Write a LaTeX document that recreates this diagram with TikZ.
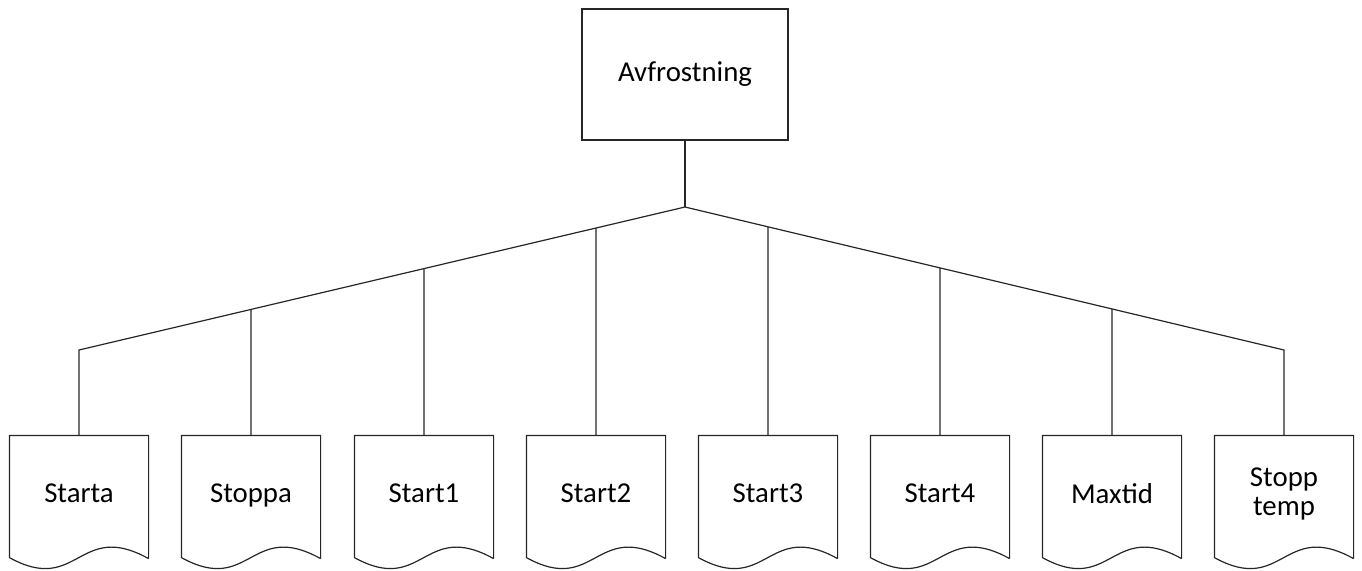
\documentclass[tikz,border=0pt]{standalone}
\usepackage{fontspec}
\setmainfont{Carlito}
\usetikzlibrary{calc}
\begin{document}
\begin{tikzpicture}[x=0.5pt,y=-0.5pt,
  line width=0.6pt,
  wire/.style={draw=black!85},
  topbox/.style={draw=black!85,minimum width=103pt,minimum height=65.5pt,inner sep=0pt,
    font=\fontsize{14.4}{15}\selectfont},
  docbox/.style={minimum width=69pt,minimum height=60.5pt,inner sep=0pt,
    text depth=3.5pt,font=\fontsize{14.4}{14.75}\selectfont,align=center},
  docline/.style={draw=black!85,line join=round}]
\useasboundingbox (0,0) rectangle (1362,570);

% root
\node[topbox] (root) at (685,74.5) {Avfrostning};

% leaves
\foreach \n/\x/\t in {d1/79/Starta,d2/251/Stoppa,d3/424/Start1,d4/596/Start2,
                      d5/768/Start3,d6/940/Start4,d7/1112/Maxtid}
  \node[docbox] (\n) at (\x,496.5) {\t};
\node[docbox,text depth=5pt] (d8) at (1284,496.5) {Stopp\\temp};

% document outlines with wavy bottom edge
\foreach \n in {d1,d2,d3,d4,d5,d6,d7,d8}
  \draw[docline] ($(\n.south east)+(0,1)$) -- (\n.north east) -- (\n.north west) -- (\n.south west)
    .. controls ($(\n.south west)+(69,38)$) and ($(\n.south west)+(69,-38)$) .. ($(\n.south east)+(0,1)$);

% tree connectors
\coordinate (j) at (685,207);
\coordinate (L) at (79,350);
\coordinate (R) at (1284,350);
\draw[wire] (root.south) -- (j);
\draw[wire] (d1.north) -- (L) -- (j) -- (R) -- (d8.north);
\foreach \n in {d2,d3,d4}
  \draw[wire] (\n.north) -- (intersection of j--L and \n.north--\n.center);
\foreach \n in {d5,d6,d7}
  \draw[wire] (\n.north) -- (intersection of j--R and \n.north--\n.center);
\end{tikzpicture}
\end{document}
